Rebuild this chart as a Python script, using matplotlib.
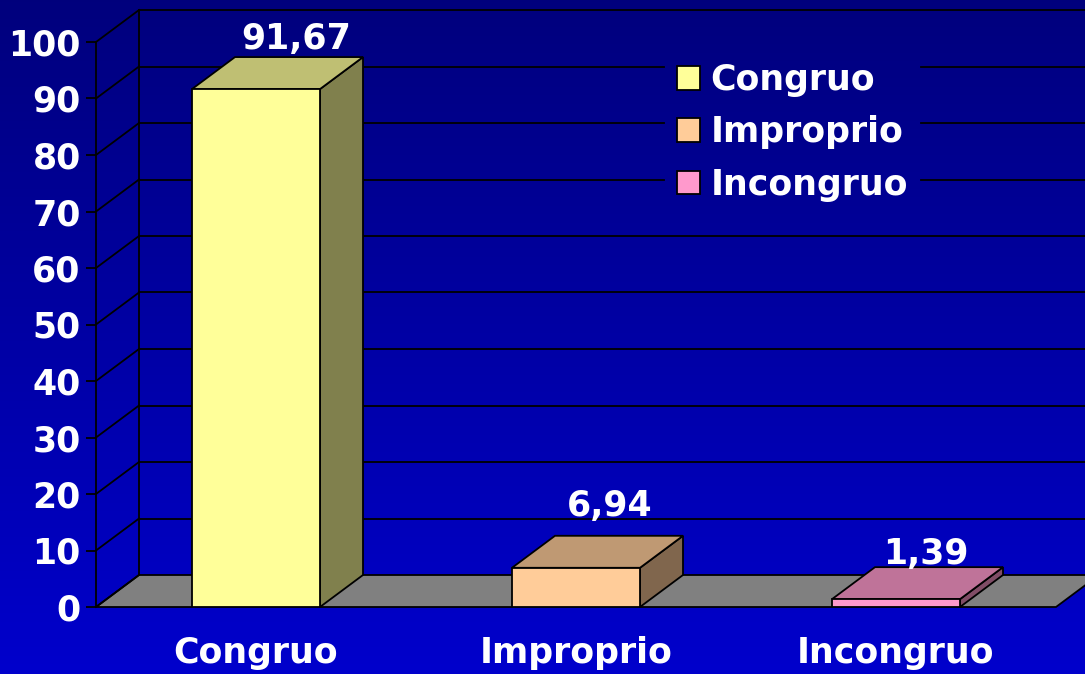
import numpy as np
import matplotlib
matplotlib.use("Agg")
import matplotlib.pyplot as plt
from matplotlib.patches import Patch, Polygon

categories = ["Congruo", "Improprio", "Incongruo"]
values = [91.67, 6.94, 1.39]
value_labels = ["91,67", "6,94", "1,39"]
y_ticks = [0, 10, 20, 30, 40, 50, 60, 70, 80, 90, 100]

front_colors = ["#FFFF99", "#FFCC99", "#FF99CC"]
top_colors = ["#BFBF73", "#BF9973", "#BF7399"]
side_colors = ["#80804D", "#80664D", "#804D66"]

W, H = 1085, 674
FONT = "DejaVu Sans"
FS = 25
LW = 1.3

# depth of the fake 3d box, in data units
DX = 43 / 320
DY = 32 / 5.65
BAR_W = 0.4

plt.rcParams["font.family"] = FONT
plt.rcParams["font.weight"] = "bold"

fig = plt.figure(figsize=(W / 100, H / 100), dpi=100)

# background gradient
bg = fig.add_axes([0, 0, 1, 1], zorder=0)
grad = np.zeros((256, 1, 3))
grad[:, 0, 2] = np.linspace(0.49, 0.80, 256)
bg.imshow(grad, aspect="auto", interpolation="bilinear")
bg.axis("off")

ax = fig.add_axes([96 / W, (H - 607) / H, 960 / W, 565 / H], zorder=1)
ax.set_xlim(-0.5, 2.5)
ax.set_ylim(0, 100)
ax.patch.set_visible(False)
for s in ax.spines.values():
    s.set_visible(False)

# floor
ax.add_patch(Polygon([(-0.5, 0), (-0.5 + DX, DY), (2.5 + DX, DY), (2.5, 0)],
                     closed=True, fc="#808080", ec="black", lw=LW, clip_on=False, zorder=1))

# back wall + grid lines, broken behind the legend
gap_l, gap_r = (664 - 96) / 320 - 0.5, (921 - 96) / 320 - 0.5
for v in y_ticks:
    ax.plot([-0.5, -0.5 + DX], [v, v + DY], color="black", lw=LW, clip_on=False, zorder=2)
    if v in (70, 80, 90):
        ax.plot([-0.5 + DX, gap_l], [v + DY, v + DY], color="black", lw=LW, clip_on=False, zorder=2)
        ax.plot([gap_r, 2.5 + DX], [v + DY, v + DY], color="black", lw=LW, clip_on=False, zorder=2)
    elif v > 0:
        ax.plot([-0.5 + DX, 2.5 + DX], [v + DY, v + DY], color="black", lw=LW, clip_on=False, zorder=2)
ax.plot([-0.5 + DX, -0.5 + DX], [DY, 100 + DY], color="black", lw=LW, clip_on=False, zorder=2)
ax.plot([-0.5, -0.5], [0, 100], color="black", lw=LW, clip_on=False, zorder=2)

# bars
for i, v in enumerate(values):
    l, r = i - BAR_W / 2, i + BAR_W / 2
    ax.add_patch(Polygon([(r, 0), (r + DX, DY), (r + DX, v + DY), (r, v)], closed=True,
                         fc=side_colors[i], ec="black", lw=LW, zorder=3, clip_on=False))
    ax.add_patch(Polygon([(l, v), (l + DX, v + DY), (r + DX, v + DY), (r, v)], closed=True,
                         fc=top_colors[i], ec="black", lw=LW, zorder=3, clip_on=False))
    ax.bar(i, v, width=BAR_W, color=front_colors[i], edgecolor="black", linewidth=LW, zorder=4)

# value labels (offsets in px from the top of the front face)
label_off = [(40, 50), (34, 62), (30, 45)]
for i, v in enumerate(values):
    ax.annotate(value_labels[i], (i, v), xytext=label_off[i], textcoords="offset pixels",
                ha="center", va="center", color="white", fontsize=FS, fontweight="bold",
                zorder=5, annotation_clip=False)

ax.set_xticks(range(len(categories)), categories)
ax.set_yticks(y_ticks)
ax.tick_params(axis="x", length=0, pad=21, colors="white", labelsize=FS)
ax.tick_params(axis="y", length=7, width=LW, color="black", pad=4, labelcolor="white", labelsize=FS)

handles = [Patch(fc=c, ec="black", lw=LW) for c in front_colors]
ax.legend(handles, categories, loc="upper left", bbox_to_anchor=(677 / W, 1 - 63 / H),
          bbox_transform=fig.transFigure, frameon=False, fontsize=FS, labelcolor="white",
          borderpad=0, borderaxespad=0, handlelength=0.67, handleheight=0.67,
          handletextpad=0.3, labelspacing=0.53)

fig.savefig("out.png", dpi=100)
